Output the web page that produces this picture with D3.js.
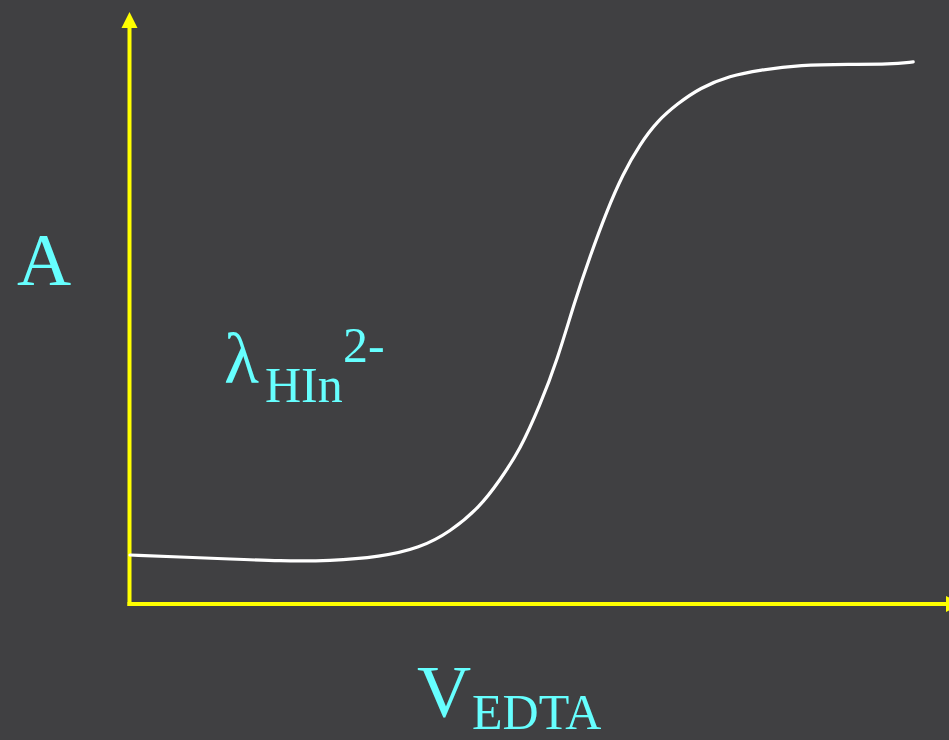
<!DOCTYPE html>
<html>
<head>
<meta charset="utf-8">
<script src="https://cdn.jsdelivr.net/npm/d3@7"></script>
<style>
  html, body { margin: 0; padding: 0; background: #404042; }
  svg { display: block; }
  text { font-family: "Liberation Serif", "Times New Roman", serif; fill: #66ffff; }
</style>
</head>
<body>
<svg id="chart" width="949" height="740"></svg>
<script>
// Titration curve: absorbance at the HIn2- wavelength vs. added EDTA volume
const volume = [0, 6.25, 12.5, 18.75, 25, 31.25, 36.25, 40, 43.75, 46.25, 48.75, 51.25, 53.4, 55.6, 57.5, 59.6, 61.6, 63.75, 65.9, 68.4, 71.25, 75, 78.75, 83.75, 90, 95, 97.9];
const absorbance = [8.35, 8.0, 7.65, 7.3, 7.3, 8.0, 9.57, 12.35, 16.7, 21.4, 26.6, 34.4, 42.2, 52.5, 60.3, 68.2, 74.6, 79.8, 83.8, 86.8, 89.6, 91.7, 92.7, 93.6, 93.7, 93.7, 94.1];

const axisLabelY = "A";
const axisLabelX = ["V", "EDTA"];
const curveLabel = ["λ", "HIn", "2-"];

const svg = d3.select("#chart");
svg.append("rect").attr("width", 949).attr("height", 740).attr("fill", "#404042");

const x = d3.scaleLinear().domain([0, 102]).range([130, 946]);
const y = d3.scaleLinear().domain([0, 100]).range([603, 28]);

const yellow = "#ffff00";
const [x0, x1] = x.range();
const [y0, y1] = y.range();

// Axes
svg.append("line")
  .attr("x1", x0 - 0.5).attr("x2", x0 - 0.5)
  .attr("y1", y0 + 3).attr("y2", y1)
  .attr("stroke", yellow).attr("stroke-width", 4);
svg.append("path")
  .attr("d", `M${x0 - 8.5},${y1} L${x0 - 0.5},${y1 - 16} L${x0 + 7.5},${y1} Z`)
  .attr("fill", yellow);

svg.append("line")
  .attr("x1", x0 - 2.5).attr("x2", x1)
  .attr("y1", y0 + 1).attr("y2", y0 + 1)
  .attr("stroke", yellow).attr("stroke-width", 4);
svg.append("path")
  .attr("d", `M${x1},${y0 + 1 - 8} L${x1 + 16},${y0 + 1} L${x1},${y0 + 1 + 8} Z`)
  .attr("fill", yellow);

// Curve (B-spline through the sampled readings for a smooth sigmoid)
const line = d3.line()
  .x((d, i) => x(volume[i]))
  .y(d => y(d))
  .curve(d3.curveBasis);

svg.append("path")
  .datum(absorbance)
  .attr("d", line)
  .attr("fill", "none")
  .attr("stroke", "#ffffff")
  .attr("stroke-width", 3.2)
  .attr("stroke-linecap", "round");

// Labels
svg.append("text")
  .attr("x", 17).attr("y", 285)
  .attr("font-size", 75)
  .text(axisLabelY);

const lam = svg.append("text");
lam.append("tspan").attr("x", 224).attr("y", 383).attr("font-size", 72).text(curveLabel[0]);
lam.append("tspan").attr("x", 265).attr("y", 402).attr("font-size", 50).text(curveLabel[1]);
lam.append("tspan").attr("x", 343).attr("y", 362).attr("font-size", 50).text(curveLabel[2]);

const vx = svg.append("text");
vx.append("tspan").attr("x", 417).attr("y", 717).attr("font-size", 75).text(axisLabelX[0]);
vx.append("tspan").attr("x", 472).attr("y", 729).attr("font-size", 50).text(axisLabelX[1]);
</script>
</body>
</html>
